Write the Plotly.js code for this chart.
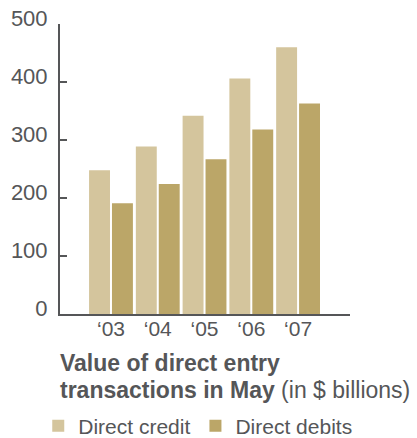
<!DOCTYPE html>
<html>
<head>
<meta charset="utf-8">
<script src="https://cdn.plot.ly/plotly-3.0.1.min.js"></script>
<style>html,body{margin:0;padding:0;background:#fff;}#chart{width:417px;height:438px;}</style>
</head>
<body>
<div id="chart"></div>
<script>
const years = ["\u201803", "\u201804", "\u201805", "\u201806", "\u201807"];
const directCredit = [248, 289, 342, 406, 460];
const directDebits = [191, 224, 267, 318, 363];
const seriesNames = ["Direct credit", "Direct debits"];
const yTicks = [0, 100, 200, 300, 400, 500];
const titleBold1 = "Value of direct entry";
const titleBold2 = "transactions in May";
const titleUnit = "(in $ billions)";

const gray = "#555658";
const font = "Liberation Sans, Arial, Helvetica, sans-serif";

const traces = [
  {type: "bar", x: years, y: directCredit, name: seriesNames[0],
   marker: {color: "#d4c59d"}, hoverinfo: "skip"},
  {type: "bar", x: years, y: directDebits, name: seriesNames[1],
   marker: {color: "#bba668"}, hoverinfo: "skip"}
];

const H = 290; // plot height in px for annotation placement
const layout = {
  width: 417, height: 438,
  margin: {l: 60, r: 67, t: 24, b: 124, pad: 0, autoexpand: false},
  paper_bgcolor: "#fff", plot_bgcolor: "#fff",
  font: {family: font, color: gray, size: 21},
  barmode: "group", bargap: 0.02, bargroupgap: 0.087,
  showlegend: true,
  legend: {orientation: "h", x: -0.075, xanchor: "left", y: (314 - 426) / H, yanchor: "middle",
           font: {size: 21, color: gray}, itemclick: false, itemdoubleclick: false,
           tracegroupgap: 0, traceorder: "normal"},
  xaxis: {type: "category", range: [-1.09, 5.11], showgrid: false, zeroline: false,
          showline: true, linecolor: gray, linewidth: 2, ticks: "", fixedrange: true,
          ticklabelstandoff: -5, automargin: false, tickfont: {size: 21, color: gray}},
  yaxis: {range: [0, 500], tickvals: yTicks, showgrid: false, zeroline: false,
          showline: true, linecolor: gray, linewidth: 2, ticks: "inside", ticklen: 7,
          tickwidth: 2, tickcolor: gray, ticklabelstandoff: 6, ticklabelshift: -6,
          automargin: false, fixedrange: true, tickfont: {size: 22, color: gray}},
  annotations: [
    {xref: "paper", yref: "paper", x: -0.007, y: (314 - 363) / H, xanchor: "left", yanchor: "middle",
     text: "<b>" + titleBold1 + "</b>", showarrow: false, font: {size: 23, color: gray}},
    {xref: "paper", yref: "paper", x: -0.007, y: (314 - 390) / H, xanchor: "left", yanchor: "middle",
     text: "<b>" + titleBold2 + "</b> " + titleUnit, showarrow: false, font: {size: 23, color: gray}}
  ]
};

Plotly.newPlot("chart", traces, layout, {displayModeBar: false, staticPlot: true});
</script>
</body>
</html>
